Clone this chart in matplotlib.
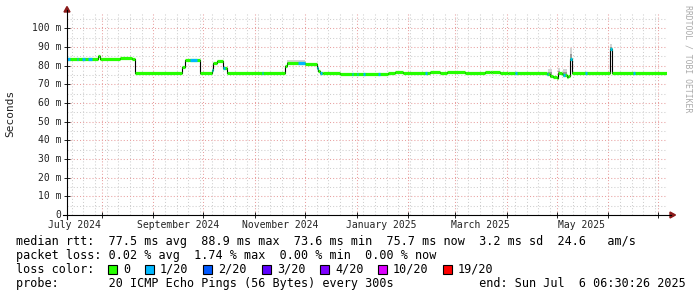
import numpy as np
import pandas as pd
import matplotlib
matplotlib.use("Agg")
import matplotlib.pyplot as plt
import matplotlib.dates as mdates
import matplotlib.transforms as mtrans
from matplotlib.patches import Rectangle, Polygon
from matplotlib.lines import Line2D

W, H = 697, 297
MONO = "DejaVu Sans Mono"


def fx(px):
    return px / W


def fy(py):
    return 1 - py / H


# ---- data -------------------------------------------------------------
end_time = "2025-07-06 06:30:26"
span_days = 360

# median rtt, step breakpoints (value holds until the next date)
med_dates = [
    "2024-07-11", "2024-07-30", "2024-07-31", "2024-08-12", "2024-08-19",
    "2024-08-21", "2024-09-18", "2024-09-20", "2024-09-29", "2024-10-06",
    "2024-10-07", "2024-10-09", "2024-10-13", "2024-10-15", "2024-11-19",
    "2024-11-20", "2024-12-01", "2024-12-08", "2024-12-09", "2024-12-10",
    "2024-12-12", "2024-12-22", "2025-01-20", "2025-01-24", "2025-01-29",
    "2025-02-14", "2025-02-20", "2025-02-24", "2025-03-07", "2025-03-19",
    "2025-03-22", "2025-03-23", "2025-03-28", "2025-04-02", "2025-04-06",
    "2025-04-25", "2025-04-27", "2025-04-29", "2025-05-01", "2025-05-02",
    "2025-05-04", "2025-05-05", "2025-05-07", "2025-05-08", "2025-05-09",
    "2025-05-10", "2025-06-02", "2025-06-03", "2025-07-06 06:30",
]
med_ms = [
    83.4, 85.0, 83.6, 84.3, 83.6,
    75.8, 79.5, 83.0, 75.8, 77.5,
    81.2, 82.7, 79.0, 75.8, 80.0,
    81.6, 80.9, 78.5, 77.3, 76.2,
    75.9, 75.6, 76.0, 76.4, 76.0,
    76.4, 76.0, 76.4, 76.0, 76.4,
    76.7, 76.4, 76.0, 76.3, 76.0,
    75.5, 74.6, 73.7, 73.4, 76.3,
    75.5, 75.0, 73.7, 74.4, 83.6,
    75.8, 88.8, 75.8, 75.8,
]

# periods with 1/20 packet loss
loss_dates = [
    "2024-07-11", "2024-07-17", "2024-07-20", "2024-07-24", "2024-09-23",
    "2024-10-06", "2024-10-13", "2024-11-05", "2024-11-27", "2024-12-08",
    "2024-12-10", "2024-12-29", "2025-01-01", "2025-01-05", "2025-01-14",
    "2025-02-11", "2025-04-06", "2025-04-25", "2025-05-05", "2025-05-09",
    "2025-05-18", "2025-06-02", "2025-06-16",
]
loss_days = [
    2, 1, 2, 2, 4,
    1, 1, 1, 4, 1,
    1, 1, 1, 1, 1,
    1, 1, 1, 1, 1,
    1, 1, 1,
]

# smoke (spread of the pings) where it shows
smoke_dates = ["2024-11-20", "2025-04-26", "2025-05-02", "2025-05-05",
               "2025-05-09", "2025-06-02"]
smoke_days = [11, 2, 1, 2, 1, 1]
smoke_lo = [81.6, 75.0, 76.3, 75.0, 83.6, 88.8]
smoke_hi = [82.8, 78.0, 78.5, 78.0, 89.5, 91.5]

y_ticks_ms = [0, 10, 20, 30, 40, 50, 60, 70, 80, 90, 100]
y_tick_labels = ["0", "10 m", "20 m", "30 m", "40 m", "50 m",
                 "60 m", "70 m", "80 m", "90 m", "100 m"]
x_label_months = ["2024-07-01", "2024-09-01", "2024-11-01",
                  "2025-01-01", "2025-03-01", "2025-05-01"]

stats_line = ("median rtt:  77.5 ms avg  88.9 ms max  73.6 ms min  "
              "75.7 ms now  3.2 ms sd  24.6   am/s")
loss_line = "packet loss: 0.02 % avg  1.74 % max  0.00 % min  0.00 % now"
loss_names = ["0", "1/20", "2/20", "3/20", "4/20", "10/20", "19/20"]
loss_colors = ["#26ff00", "#00b8ff", "#0059ff", "#5e00ff",
               "#7e00ff", "#dd00ff", "#ff0000"]
probe_line = ("probe:       20 ICMP Echo Pings (56 Bytes) every 300s"
              "            end: Sun Jul  6 06:30:26 2025")

# ---- figure -----------------------------------------------------------
fig = plt.figure(figsize=(W / 100, H / 100), dpi=100)
fig.patch.set_facecolor("white")
ax = fig.add_axes([fx(67), fy(215), 600 / W, 202 / H])

t_end = pd.Timestamp(end_time)
t_start = t_end - pd.Timedelta(days=span_days)
ax.set_xlim(t_start, t_end)
ax.set_ylim(0, 108.2)

for s in ax.spines.values():
    s.set_visible(False)

ax.set_yticks(y_ticks_ms)
ax.set_yticks(np.arange(5, 106, 10), minor=True)
ax.xaxis.set_major_locator(mdates.MonthLocator())
ax.xaxis.set_minor_locator(mdates.WeekdayLocator(byweekday=mdates.SU))
ax.set_xticklabels([])
ax.set_yticklabels([])
ax.tick_params(which="major", length=4, width=0.7, direction="inout", color="#222222")
ax.tick_params(which="minor", length=0)
ax.grid(which="minor", color="#cfcfcf", linestyle=(0, (1, 2)), linewidth=0.75)
ax.grid(which="major", color="#e8a0a0", linestyle=(0, (1, 2)), linewidth=0.75)
ax.set_axisbelow(True)

# smoke
sd = pd.to_datetime(smoke_dates, format="ISO8601")
for d, n, lo, hi in zip(sd, smoke_days, smoke_lo, smoke_hi):
    mid = lo + (hi - lo) * 0.45
    ax.bar(d, hi - mid, bottom=mid, width=n, align="edge", color="#d4d4d4", lw=0, zorder=2)
    ax.bar(d, mid - lo, bottom=lo, width=n, align="edge", color="#9a9a9a", lw=0, zorder=2)

# median rtt
md = pd.to_datetime(med_dates, format="ISO8601")
mv = np.array(med_ms)
ax.step(md, mv, where="post", color="black", lw=0.8, zorder=3)
ax.hlines(mv[:-1], md[:-1], md[1:], colors=loss_colors[0], lw=2.3, zorder=4)

ld = pd.to_datetime(loss_dates, format="ISO8601")
idx = np.searchsorted(md.values, ld.values, side="right") - 1
for d, n, i in zip(ld, loss_days, idx):
    ax.hlines(mv[i], d, d + pd.Timedelta(days=n), colors=loss_colors[1], lw=2.3, zorder=5)

# axes lines and arrows
fig.add_artist(Line2D([fx(67), fx(67)], [fy(219), fy(10)], color="black", lw=0.8))
fig.add_artist(Line2D([fx(63), fx(671)], [fy(215), fy(215)], color="black", lw=0.8))
fig.add_artist(Polygon([(fx(64), fy(12)), (fx(70), fy(12)), (fx(67), fy(6.5))],
                       closed=True, color="#8b1a1a", transform=fig.transFigure))
fig.add_artist(Polygon([(fx(670), fy(212)), (fx(670), fy(218)), (fx(675.5), fy(215))],
                       closed=True, color="#8b1a1a", transform=fig.transFigure))

# y tick labels
ty = mtrans.blended_transform_factory(fig.transFigure, ax.transData)
for v, lab in zip(y_ticks_ms, y_tick_labels):
    ax.text(fx(61), v, lab, transform=ty, ha="right", va="center",
            family=MONO, fontsize=7, color="#222222", clip_on=False)

# x labels (centred mid-month)
tx = mtrans.blended_transform_factory(ax.transData, fig.transFigure)
for m in x_label_months:
    d = pd.Timestamp(m)
    ax.text(d + pd.Timedelta(days=15), fy(224.5), d.strftime("%B %Y"), transform=tx,
            ha="center", va="center", family=MONO, fontsize=7, color="#222222",
            clip_on=False)

fig.text(fx(10), fy(113), "Seconds", rotation=90, ha="center", va="center",
         family=MONO, fontsize=8, color="#222222")
fig.text(fx(688), fy(59), "RRDTOOL / TOBI OETIKER", rotation=-90, ha="center",
         va="center", family=MONO, fontsize=5.9, color="#aaaaaa")

# legend
fig.text(fx(16), fy(241.5), stats_line, ha="left", va="center", family=MONO,
         fontsize=8.5, color="black")
fig.text(fx(16), fy(255.5), loss_line, ha="left", va="center", family=MONO,
         fontsize=8.5, color="black")
fig.text(fx(16), fy(269.5), "loss color:", ha="left", va="center", family=MONO,
         fontsize=8.5, color="black")
box_x = [108, 145, 203, 262, 320, 378, 443]
for bx, name, c in zip(box_x, loss_names, loss_colors):
    fig.add_artist(Rectangle((fx(bx), fy(274)), 9 / W, 9 / H, transform=fig.transFigure,
                             fc=c, ec="black", lw=0.8))
    fig.text(fx(bx + 15), fy(269.5), name, ha="left", va="center", family=MONO,
             fontsize=8.5, color="black")
fig.text(fx(16), fy(283.5), probe_line, ha="left", va="center", family=MONO,
         fontsize=8.5, color="black")

fig.savefig("out.png", dpi=100)
